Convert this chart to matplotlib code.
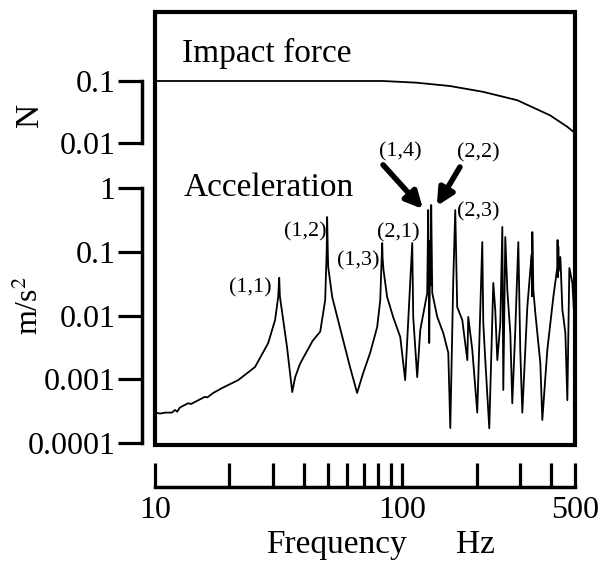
import numpy as np
import matplotlib
matplotlib.use("Agg")
import matplotlib.pyplot as plt
from matplotlib.patches import Rectangle
from matplotlib.ticker import FixedLocator, NullFormatter, NullLocator

plt.rcParams['font.family'] = ['Liberation Serif', 'DejaVu Serif']
plt.rcParams['mathtext.fontset'] = 'stix'

# --- data ---
force_freq = [10, 30, 60, 83.7, 114, 156, 212, 292, 396, 465, 500]
force_val = [0.1, 0.1, 0.1, 0.1, 0.094, 0.083, 0.067, 0.049, 0.028, 0.0183, 0.0145]

acc_freq = [10.0, 10.5, 11.0, 11.7, 12.05, 12.3, 12.6, 13.6, 14.0, 15.9, 16.3, 17.2,
            18.7, 21.7, 25.4, 28.7, 30.6, 31.5, 31.8, 32.0, 32.7, 34.2, 35.9, 36.9,
            38.5, 39.6, 43.4, 46.6, 48.8, 49.5, 49.7, 50.0, 50.2, 52.1, 54.6, 57.7,
            61.5, 65.7, 69.5, 74.2, 79.2, 81.5, 82.8, 83.0, 83.3, 84.0, 86.9, 91.9,
            98.2, 102.8, 109.8, 110.8, 115.0, 118.3, 126.2, 127.4, 128.6, 129.8,
            130.3, 131.0, 132.3, 138.6, 146.6, 153.6, 156.5, 160.9, 163.9, 166.9,
            175.0, 183.4, 185.0, 192.1, 201.2, 210.8, 212.8, 216.8, 225.0, 233.6,
            237.9, 242.5, 249.4, 254.1, 256.4, 261.2, 266.2, 273.7, 278.8, 286.7,
            294.9, 300.4, 306.1, 320.7, 329.8, 334.0, 335.0, 336.0, 339.2, 345.5,
            362.0, 368.8, 386.4, 408.6, 424.2, 425.0, 426.5, 428.0, 430.0, 436.3,
            444.5, 448.6, 457.1, 465.6, 474.4, 487.9, 500]
acc_val = [0.0003, 0.00029, 0.0003, 0.0003, 0.00033, 0.00031, 0.00036, 0.00042,
           0.00041, 0.00053, 0.00052, 0.00061, 0.00073, 0.00097, 0.00156, 0.0037,
           0.0085, 0.0195, 0.039, 0.02, 0.011, 0.0032, 0.00063, 0.00108, 0.0017,
           0.0021, 0.004, 0.0056, 0.0175, 0.106, 0.35, 0.1, 0.0577, 0.0195, 0.0095,
           0.0041, 0.00156, 0.00061, 0.00125, 0.0026, 0.0066, 0.0175, 0.106, 0.137,
           0.08, 0.052, 0.0195, 0.0095, 0.0046, 0.00097, 0.137, 0.0095, 0.00108,
           0.0059, 0.0225, 0.452, 0.0037, 0.15, 0.03, 0.541, 0.0225, 0.0095, 0.0053,
           0.0026, 0.000172, 0.036, 0.45, 0.0136, 0.0085, 0.002, 0.0095, 0.0029,
           0.0003, 0.142, 0.0076, 0.002, 0.00017, 0.0324, 0.0122, 0.002, 0.0076,
           0.245, 0.00068, 0.17, 0.025, 0.0053, 0.00042, 0.0059, 0.142, 0.0027,
           0.0003, 0.0136, 0.0518, 0.09, 0.02, 0.204, 0.025, 0.011, 0.0018, 0.00023,
           0.0029, 0.0195, 0.0576, 0.153, 0.04, 0.12, 0.05, 0.0827, 0.0122, 0.0095,
           0.0053, 0.00047, 0.0556, 0.0324, 0.0059]

acc_ticks = [1, 0.1, 0.01, 0.001, 0.0001]
acc_labels = ['1', '0.1', '0.01', '0.001', '0.0001']
force_ticks = [0.1, 0.01]
force_labels = ['0.1', '0.01']
freq_major = [10, 100, 500]
freq_minor = [20, 30, 40, 50, 60, 70, 80, 90, 200, 300, 400]

# mode labels: (text, x, y) in axes fraction
modes = [('(1,1)', 0.226, 0.363), ('(1,2)', 0.357, 0.492), ('(1,3)', 0.483, 0.425),
         ('(2,1)', 0.579, 0.490), ('(1,4)', 0.583, 0.677), ('(2,2)', 0.769, 0.674),
         ('(2,3)', 0.769, 0.538)]

fig = plt.figure(figsize=(6.1, 5.68), dpi=100)
rect = [155 / 610, 123 / 568, 420 / 610, 433 / 568]
ax = fig.add_axes(rect)
ax2 = fig.add_axes(rect, facecolor='none')

for a in (ax, ax2):
    a.set_xscale('log')
    a.set_yscale('log')
    a.set_xlim(10, 500)
    for s in ('top', 'right'):
        a.spines[s].set_visible(False)

ax.set_ylim(10 ** -4.031, 10 ** 2.761)
ax2.set_ylim(10 ** -6.871, 10 ** 0.113)

ax.plot(acc_freq, acc_val, color='black', lw=1.3)
ax2.plot(force_freq, force_val, color='black', lw=1.3)

# frame around the plot area
ax.add_patch(Rectangle((0, 0), 1, 1, transform=ax.transAxes, fill=False,
                       lw=3, ec='black', clip_on=False, zorder=5))

tick_kw = dict(direction='out', length=17, width=2.3, labelsize=23, pad=2)

# acceleration axis
ax.spines['left'].set_position(('outward', 9.5))
ax.spines['left'].set_bounds(1e-4, 1)
ax.spines['left'].set_linewidth(2.5)
ax.yaxis.set_major_locator(FixedLocator(acc_ticks))
ax.set_yticklabels(acc_labels)
ax.yaxis.set_minor_locator(NullLocator())
ax.tick_params(axis='y', which='major', **tick_kw)

# force axis
ax2.spines['left'].set_position(('outward', 9.5))
ax2.spines['left'].set_bounds(0.01, 0.1)
ax2.spines['left'].set_linewidth(2.5)
ax2.spines['bottom'].set_visible(False)
ax2.yaxis.set_major_locator(FixedLocator(force_ticks))
ax2.set_yticklabels(force_labels)
ax2.yaxis.set_minor_locator(NullLocator())
ax2.tick_params(axis='y', which='major', **tick_kw)
ax2.tick_params(axis='x', which='both', bottom=False, labelbottom=False)

# frequency axis
ax.spines['bottom'].set_position(('outward', 30))
ax.spines['bottom'].set_bounds(10, 500)
ax.spines['bottom'].set_linewidth(2.5)
ax.xaxis.set_major_locator(FixedLocator(freq_major))
ax.set_xticklabels([str(v) for v in freq_major])
ax.xaxis.set_minor_locator(FixedLocator(freq_minor))
ax.xaxis.set_minor_formatter(NullFormatter())
ax.tick_params(axis='x', which='both', direction='in', length=17, width=2.3,
               labelsize=23, pad=7)

ax.text(0.064, 0.905, 'Impact force', transform=ax.transAxes, fontsize=24,
        ha='left', va='center')
ax.text(0.067, 0.594, 'Acceleration', transform=ax.transAxes, fontsize=24,
        ha='left', va='center')

for label, x, y in modes:
    ax.text(x, y, label, transform=ax.transAxes, fontsize=16, ha='center', va='center')

arrow_kw = dict(arrowstyle='-|>,head_length=1.0,head_width=0.5', lw=4,
                color='black', shrinkA=0, shrinkB=0)
ax.annotate('', xy=(0.638, 0.545), xytext=(0.543, 0.647),
            xycoords='axes fraction', arrowprops=arrow_kw)
ax.annotate('', xy=(0.671, 0.552), xytext=(0.726, 0.642),
            xycoords='axes fraction', arrowprops=arrow_kw)

fig.text(0.049, 0.797, 'N', rotation=90, fontsize=24, ha='center', va='center')
fig.text(0.049, 0.463, 'm/s$^2$', rotation=90, fontsize=23, ha='center', va='center')
fig.text(0.551, 0.0405, 'Frequency', fontsize=24, ha='center', va='center')
fig.text(0.779, 0.0405, 'Hz', fontsize=24, ha='center', va='center')

fig.savefig('out.png', dpi=100)
